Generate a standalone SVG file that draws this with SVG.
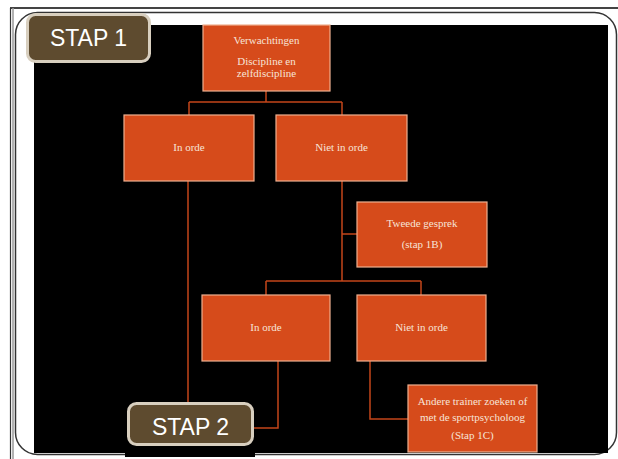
<svg xmlns="http://www.w3.org/2000/svg" width="618" height="459" viewBox="0 0 618 459">
<style>
.node rect{fill:#d64b1b;stroke:#eeb090;stroke-width:1.2}
.node text{fill:#f6e4d8;font-family:"Liberation Serif",serif;font-size:11px;text-anchor:middle}
.badge rect{fill:#5e4b2f;stroke:#d8cfbf;stroke-width:3}
.badge text{fill:#ffffff;font-family:"Liberation Sans",Arial,sans-serif;font-size:23px;text-anchor:middle}
#connectors path{fill:none;stroke:#c4461a;stroke-width:1.5}
</style>
<rect x="0" y="0" width="618" height="459" fill="#ffffff"/>
<line x1="10" y1="8" x2="618" y2="8" stroke="#444" stroke-width="2"/>
<line x1="10.5" y1="8" x2="10.5" y2="459" stroke="#333" stroke-width="1.2"/>
<line x1="13" y1="8" x2="13" y2="459" stroke="#999" stroke-width="1.5"/>
<rect x="15.5" y="12.5" width="601" height="442" rx="22" fill="none" stroke="#333" stroke-width="1.5"/>
<rect x="34" y="25" width="574" height="428" fill="#000"/>
<rect x="125" y="440" width="130" height="17" fill="#000"/>
<g id="connectors">
<path d="M266 91V102M189 102H342M189 102V115M342 102V115"/>
<path d="M188 181V402"/>
<path d="M342 181V281M342 234H357M266 281H421M266 281V295M421 281V295"/>
<path d="M278 361V428H253"/>
<path d="M370 361V419H408"/>
</g>
<g id="node-verwachtingen" class="node">
<rect x="203" y="25" width="127" height="66"/>
<text x="266.5" y="44">Verwachtingen</text>
<text x="266.5" y="65">Discipline en</text>
<text x="266.5" y="77">zelfdiscipline</text>
</g>
<g id="node-inorde1" class="node">
<rect x="124" y="115" width="130" height="66"/>
<text x="189" y="151">In orde</text>
</g>
<g id="node-nietinorde1" class="node">
<rect x="276" y="115" width="131" height="66"/>
<text x="341.5" y="151">Niet in orde</text>
</g>
<g id="node-tweede" class="node">
<rect x="357" y="202" width="130" height="65"/>
<text x="422" y="227">Tweede gesprek</text>
<text x="422" y="248">(stap 1B)</text>
</g>
<g id="node-inorde2" class="node">
<rect x="202" y="295" width="128" height="66"/>
<text x="266" y="331">In orde</text>
</g>
<g id="node-nietinorde2" class="node">
<rect x="357" y="295" width="129" height="66"/>
<text x="421.5" y="331">Niet in orde</text>
</g>
<g id="node-andere" class="node">
<rect x="408" y="385" width="129" height="67"/>
<text x="472.5" y="405">Andere trainer zoeken of</text>
<text x="472.5" y="421">met de sportpsycholoog</text>
<text x="472.5" y="439">(Stap 1C)</text>
</g>
<g id="badge-stap1" class="badge">
<rect x="27.5" y="14.5" width="122" height="47" rx="8"/>
<text x="88.5" y="46">STAP 1</text>
</g>
<g id="badge-stap2" class="badge">
<rect x="128.5" y="403.5" width="124" height="41" rx="8"/>
<text x="190.5" y="435">STAP 2</text>
</g>
</svg>
